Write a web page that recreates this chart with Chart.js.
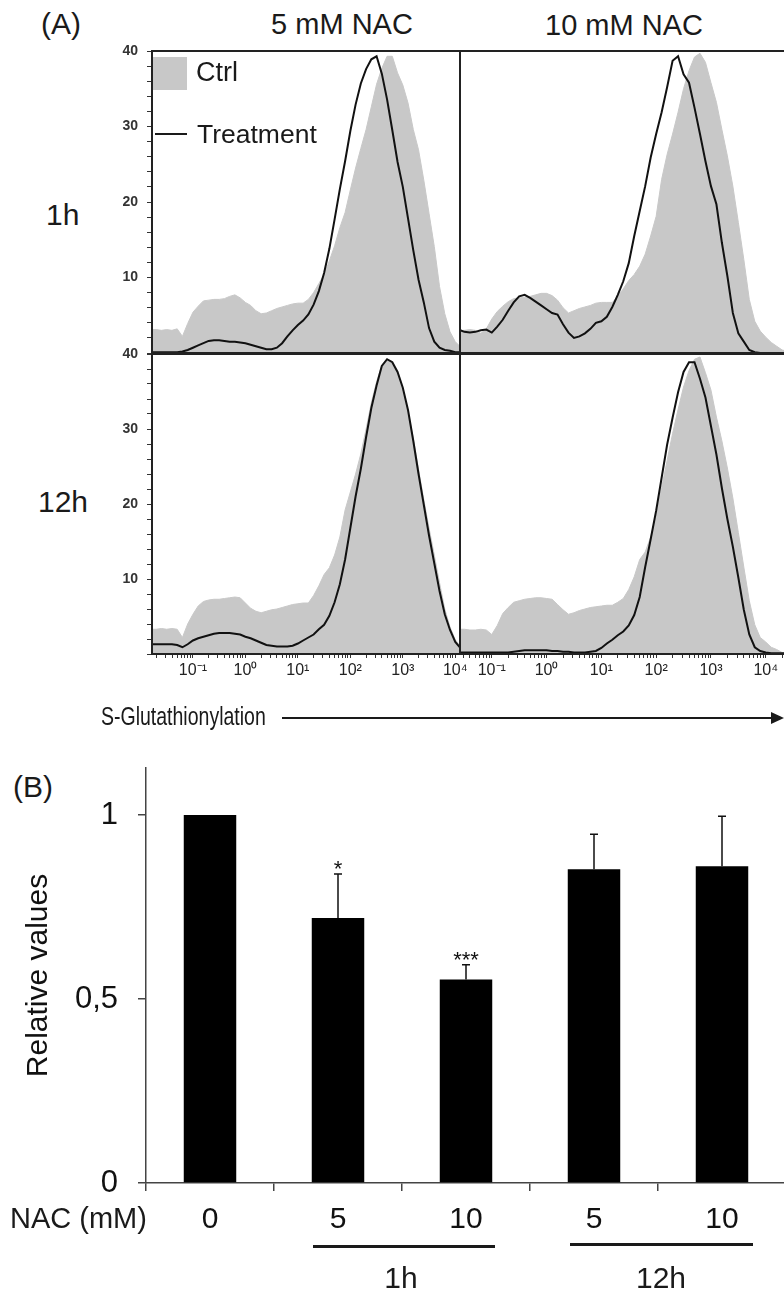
<!DOCTYPE html>
<html>
<head>
<meta charset="utf-8">
<title>S-Glutathionylation after NAC treatment</title>
<script src="https://cdn.jsdelivr.net/npm/chart.js@4.4.1/dist/chart.umd.min.js"></script>
<style>
  html, body { margin: 0; padding: 0; background: #fff; }
  body { width: 784px; height: 1296px; position: relative; overflow: hidden;
         font-family: "Liberation Sans", Arial, sans-serif; color: #1a1a1a; }
  canvas { position: absolute; }
  .t { position: absolute; white-space: nowrap; line-height: 1; }
  .c { transform: translateX(-50%); }
  .blk { position: absolute; background: #1a1a1a; }
</style>
</head>
<body>

<!-- panel (A): flow cytometry histograms -->
<div class="t" style="left:41px; top:9px; font-size:30px;">(A)</div>
<div class="t c" style="left:342px; top:10px; font-size:29px;">5 mM NAC</div>
<div class="t c" style="left:624px; top:11px; font-size:29px;">10 mM NAC</div>
<div class="t" style="left:46px; top:200px; font-size:30px;">1h</div>
<div class="t" style="left:38px; top:487px; font-size:30px;">12h</div>

<canvas id="histTL" width="363" height="315" style="left:100px; top:41px;"></canvas>
<canvas id="histTR" width="332" height="315" style="left:457px; top:41px;"></canvas>
<canvas id="histBR" width="332" height="350" style="left:457px; top:344px;"></canvas>
<canvas id="histBL" width="380" height="350" style="left:100px; top:344px;"></canvas>

<!-- legend of the histograms -->
<div style="position:absolute; left:153px; top:57px; width:34px; height:33px; background:#c8c8c8;"></div>
<div class="t" style="left:196px; top:59px; font-size:27px;">Ctrl</div>
<div class="blk" style="left:155px; top:133px; width:32px; height:2px;"></div>
<div class="t" style="left:197px; top:121px; font-size:26.5px;">Treatment</div>

<!-- x axis caption with arrow -->
<div class="t" style="left:101px; top:704px; font-size:25px; transform:scaleX(0.78); transform-origin:0 0;">S-Glutathionylation</div>
<div class="blk" style="left:282px; top:717px; width:490px; height:2px;"></div>
<div style="position:absolute; left:771px; top:712px; width:0; height:0; border-top:6px solid transparent; border-bottom:6px solid transparent; border-left:13px solid #1a1a1a;"></div>

<!-- panel (B): relative values -->
<div class="t" style="left:13px; top:772px; font-size:30px;">(B)</div>
<canvas id="barChart" width="786" height="548" style="left:0px; top:748px;"></canvas>
<div class="t" style="left:10px; top:1204px; font-size:29px;">NAC (mM)</div>
<div class="blk" style="left:313px; top:1245px; width:182px; height:3px;"></div>
<div class="blk" style="left:570px; top:1243px; width:183px; height:3px;"></div>
<div class="t c" style="left:401px; top:1263px; font-size:30px;">1h</div>
<div class="t c" style="left:661px; top:1263px; font-size:30px;">12h</div>

<script>
// ---- histogram data: counts per log10 intensity bin ----
const logIntensity = [
  -1.8, -1.7, -1.6, -1.5, -1.4, -1.3, -1.2, -1.1, -1.0, -0.9,
  -0.8, -0.7, -0.6, -0.5, -0.4, -0.3, -0.2, -0.1, 0.0, 0.1,
  0.2, 0.3, 0.4, 0.5, 0.6, 0.7, 0.8, 0.9, 1.0, 1.1,
  1.2, 1.3, 1.4, 1.5, 1.6, 1.7, 1.8, 1.9, 2.0, 2.1,
  2.2, 2.3, 2.4, 2.5, 2.6, 2.7, 2.8, 2.9, 3.0, 3.1,
  3.2, 3.3, 3.4, 3.5, 3.6, 3.7, 3.8, 3.9, 4.0, 4.1,
  4.2, 4.3, 4.4
];

// 1 h, 5 mM NAC
const ctrl1h5 = [
  3.1, 3.1, 3.0, 3.1, 3.0, 3.2, 2.2, 3.9, 5.4, 6.2,
  6.9, 7.0, 7.1, 7.1, 7.2, 7.5, 7.7, 7.3, 6.7, 6.3,
  5.6, 5.2, 5.3, 5.6, 5.9, 6.1, 6.3, 6.5, 6.6, 6.6,
  7.1, 8.0, 9.2, 10.4, 12.2, 14.2, 16.6, 18.6, 21.6, 24.5,
  27.1, 29.6, 32.6, 35.6, 37.7, 39.3, 39.3, 37.1, 35.5, 33.1,
  29.6, 26.9, 22.9, 18.5, 14.1, 8.8, 5.2, 2.8, 1.5, 0.8,
  0.4, 0.2, 0.1
];
const nac1h5 = [
  0.1, 0.1, 0.1, 0.1, 0.1, 0.1, 0.2, 0.4, 0.7, 1.0,
  1.3, 1.6, 1.7, 1.7, 1.6, 1.5, 1.5, 1.4, 1.3, 1.1,
  0.9, 0.7, 0.5, 0.5, 0.7, 1.3, 2.2, 3.0, 3.7, 4.3,
  5.1, 6.4, 8.2, 10.6, 13.8, 17.7, 21.7, 25.4, 29.4, 32.9,
  35.7, 37.6, 38.9, 39.3, 37.0, 33.6, 29.5, 25.3, 22.0, 17.8,
  13.6, 9.7, 6.7, 3.3, 1.5, 0.7, 0.4, 0.3, 0.1, 0.1,
  0.1, 0.1, 0.1
];

// 1 h, 10 mM NAC
const ctrl1h10 = [
  3.0, 3.0, 3.0, 3.0, 3.1, 3.0, 2.6, 3.2, 4.5, 5.5,
  6.2, 6.8, 7.2, 7.3, 7.4, 7.5, 7.7, 7.9, 7.9, 7.6,
  7.0, 6.0, 5.3, 5.6, 5.9, 6.1, 6.3, 6.6, 6.7, 6.7,
  6.7, 7.5, 8.5, 9.6, 10.4, 11.5, 13.1, 15.5, 18.1, 23.0,
  26.3, 29.0, 31.9, 35.0, 37.4, 39.2, 39.7, 38.5, 35.8, 33.2,
  29.6, 26.1, 22.1, 17.3, 12.4, 7.1, 4.2, 2.9, 2.1, 1.4,
  0.9, 0.4, 0.2
];
const nac1h10 = [
  3.0, 3.1, 3.1, 2.8, 2.7, 2.8, 3.0, 3.1, 2.7, 3.5,
  4.4, 5.6, 6.7, 7.5, 7.7, 7.3, 6.8, 6.3, 5.8, 5.3,
  5.1, 3.8, 2.7, 2.0, 2.2, 2.6, 3.2, 4.0, 4.2, 4.8,
  6.1, 7.7, 9.5, 11.9, 15.5, 18.8, 22.1, 25.9, 29.0, 31.9,
  35.2, 38.7, 39.3, 36.9, 35.8, 32.5, 29.0, 25.4, 22.1, 19.7,
  14.6, 10.2, 5.3, 2.6, 1.5, 0.4, 0.1, 0.0, 0.0, 0.0,
  0.0, 0.0, 0.0
];

// 12 h, 5 mM NAC
const ctrl12h5 = [
  3.3, 3.3, 3.4, 3.3, 3.4, 3.3, 2.2, 4.0, 5.3, 6.4,
  7.0, 7.2, 7.3, 7.3, 7.4, 7.5, 7.6, 7.5, 6.8, 6.1,
  5.7, 5.5, 5.7, 5.9, 6.0, 6.2, 6.4, 6.6, 6.7, 6.8,
  6.8, 7.8, 9.1, 10.6, 11.5, 13.2, 15.6, 19.2, 21.6, 24.0,
  26.7, 30.0, 33.5, 36.3, 38.5, 39.3, 39.0, 37.4, 35.0, 32.3,
  28.8, 24.6, 20.6, 16.8, 13.2, 9.5, 6.0, 3.6, 1.9, 1.0,
  0.5, 0.2, 0.1
];
const nac12h5 = [
  1.3, 1.3, 1.3, 1.3, 1.3, 1.2, 0.9, 1.3, 1.8, 2.1,
  2.3, 2.5, 2.7, 2.8, 2.8, 2.8, 2.7, 2.6, 2.3, 2.1,
  1.8, 1.5, 1.2, 1.1, 1.0, 1.0, 1.0, 1.1, 1.4, 1.8,
  2.2, 2.6, 3.3, 3.9, 5.1, 6.9, 9.3, 12.6, 16.8, 21.0,
  24.7, 28.9, 32.8, 35.8, 38.4, 39.3, 38.9, 37.6, 35.5, 32.5,
  28.4, 24.0, 19.9, 15.8, 12.1, 8.4, 5.3, 3.2, 1.6, 0.8,
  0.4, 0.2, 0.1
];

// 12 h, 10 mM NAC
const ctrl12h10 = [
  3.3, 3.3, 3.3, 3.3, 3.2, 3.2, 3.3, 3.2, 2.6, 3.8,
  5.4, 6.2, 6.9, 7.1, 7.3, 7.4, 7.5, 7.5, 7.4, 7.3,
  6.6, 5.9, 5.3, 5.5, 5.8, 6.0, 6.2, 6.3, 6.4, 6.5,
  6.5, 6.9, 7.4, 8.6, 10.3, 12.6, 13.6, 15.6, 18.2, 22.2,
  25.8, 29.4, 32.6, 35.6, 37.8, 39.3, 39.6, 37.5, 35.2, 31.6,
  28.4, 24.8, 20.8, 16.2, 11.6, 7.1, 3.9, 2.2, 1.6, 0.9,
  0.6, 0.2, 0.0
];
const nac12h10 = [
  0.2, 0.2, 0.2, 0.2, 0.2, 0.2, 0.2, 0.2, 0.2, 0.2,
  0.2, 0.2, 0.3, 0.4, 0.5, 0.5, 0.5, 0.5, 0.5, 0.4,
  0.4, 0.3, 0.3, 0.2, 0.2, 0.2, 0.3, 0.4, 0.8, 1.4,
  1.9, 2.5, 3.0, 3.8, 5.2, 7.6, 11.6, 15.3, 19.1, 23.5,
  27.9, 31.5, 34.9, 37.6, 38.9, 38.9, 36.7, 34.2, 30.4, 26.6,
  22.1, 18.0, 14.3, 10.2, 5.9, 2.6, 0.9, 0.4, 0.2, 0.1,
  0.1, 0.1, 0.1
];

// decade ticks of the intensity axis
const decades = [-1, 0, 1, 2, 3, 4];
const decadeLabels = ['10\u207B\u00B9', '10\u2070', '10\u00B9', '10\u00B2', '10\u00B3', '10\u2074'];

// ---- bar chart data ----
const nacLabels = ['0', '5', '10', '5', '10'];
const relValues = [1.0, 0.72, 0.553, 0.853, 0.861];
const relErrors = [0, 0.12, 0.04, 0.095, 0.136];
const sigMarks = ['', '*', '***', '', ''];
const relTicks = [0, 0.5, 1];
const relTickLabels = ['0', '0,5', '1'];

Chart.defaults.font.family = '"Liberation Sans", Arial, sans-serif';
Chart.defaults.color = '#1a1a1a';

// outline of each histogram panel
const framePlugin = {
  id: 'frame',
  afterDatasetsDraw(chart) {
    const { ctx, chartArea: a } = chart;
    ctx.save();
    ctx.strokeStyle = '#222';
    ctx.lineWidth = 2;
    ctx.strokeRect(a.left, a.top, a.right - a.left, a.bottom - a.top);
    ctx.restore();
  }
};

function points(values) {
  return logIntensity.map((x, i) => ({ x, y: values[i] }));
}

function histPanel(id, ctrl, nac, range, showY, showX, padding) {
  return new Chart(document.getElementById(id), {
    type: 'line',
    data: {
      datasets: [
        { label: 'Treatment', data: points(nac), borderColor: '#111', borderWidth: 2,
          pointRadius: 0, fill: false, tension: 0, order: 0 },
        { label: 'Ctrl', data: points(ctrl), borderColor: '#c8c8c8', backgroundColor: '#c8c8c8',
          borderWidth: 1, pointRadius: 0, fill: 'origin', tension: 0, order: 1 }
      ]
    },
    options: {
      responsive: false, animation: false, devicePixelRatio: 1,
      layout: { padding },
      plugins: { legend: { display: false }, tooltip: { enabled: false } },
      scales: {
        x: {
          type: 'linear', min: range[0], max: range[1], display: showX,
          border: { display: false },
          grid: { drawOnChartArea: false, tickLength: 4, color: '#333', lineWidth: 1 },
          ticks: {
            autoSkip: false, maxRotation: 0, minRotation: 0, padding: 3,
            font: { size: 16 }, color: '#222',
            callback(v) {
              const k = decades.indexOf(Math.round(v));
              return (Math.abs(v - Math.round(v)) < 1e-6 && k >= 0) ? decadeLabels[k] : '';
            }
          },
          afterBuildTicks(s) {
            const t = [];
            for (let n = -2; n <= 4; n++) {
              for (let m = 1; m < 10; m++) {
                const v = n + Math.log10(m);
                if (v >= s.min && v <= s.max) t.push({ value: m === 1 ? n : v });
              }
            }
            s.ticks = t;
          },
          afterFit(s) {
            s.height = showX ? 40 : 0;
            s.paddingLeft = 0; s.paddingRight = 0;
          }
        },
        y: {
          min: 0, max: 40, display: showY,
          border: { display: false },
          grid: { drawOnChartArea: false, tickLength: 5, color: '#333', lineWidth: 1 },
          ticks: {
            stepSize: 2, autoSkip: false, padding: 9,
            font: { size: 14, weight: 'bold' }, color: '#333',
            callback: v => (v > 0 && v % 10 === 0) ? String(v) : ''
          },
          afterFit(s) {
            s.width = showY ? 52 : 0;
            s.paddingTop = 0; s.paddingBottom = 0;
          }
        }
      }
    },
    plugins: [framePlugin]
  });
}

const leftRange = [-1.78, 4.09];
const rightRange = [-1.58, 4.37];
histPanel('histTL', ctrl1h5, nac1h5, leftRange, true, false, { left: 0, top: 10, right: 3, bottom: 3 });
histPanel('histTR', ctrl1h10, nac1h10, rightRange, false, false, { left: 3, top: 10, right: 3, bottom: 3 });
histPanel('histBR', ctrl12h10, nac12h10, rightRange, false, true, { left: 3, top: 10, right: 3, bottom: 0 });
histPanel('histBL', ctrl12h5, nac12h5, leftRange, true, true, { left: 0, top: 10, right: 20, bottom: 0 });

// error whiskers (upper half only) and significance stars
const errorBars = {
  id: 'errorBars',
  afterDatasetsDraw(chart) {
    const { ctx } = chart;
    const y = chart.scales.y;
    const meta = chart.getDatasetMeta(0);
    ctx.save();
    ctx.strokeStyle = '#111';
    ctx.fillStyle = '#111';
    ctx.lineWidth = 1.5;
    meta.data.forEach((bar, i) => {
      const err = relErrors[i];
      const top = y.getPixelForValue(relValues[i] + err);
      if (err > 0) {
        ctx.beginPath();
        ctx.moveTo(bar.x, bar.y);
        ctx.lineTo(bar.x, top);
        ctx.moveTo(bar.x - 4, top);
        ctx.lineTo(bar.x + 4, top);
        ctx.stroke();
      }
      if (sigMarks[i]) {
        ctx.font = '22px "Liberation Sans", Arial, sans-serif';
        ctx.textAlign = 'center';
        ctx.textBaseline = 'alphabetic';
        ctx.fillText(sigMarks[i], bar.x, top + 2);
      }
    });
    ctx.restore();
  }
};

new Chart(document.getElementById('barChart'), {
  type: 'bar',
  data: {
    labels: nacLabels,
    datasets: [{ data: relValues, backgroundColor: '#000', borderWidth: 0,
                 barPercentage: 0.41, categoryPercentage: 1 }]
  },
  options: {
    responsive: false, animation: false, devicePixelRatio: 1,
    layout: { padding: { left: 0, top: 20, right: 0, bottom: 0 } },
    plugins: { legend: { display: false }, tooltip: { enabled: false } },
    scales: {
      x: {
        border: { color: '#444', width: 1.5 },
        grid: { offset: true, drawOnChartArea: false, tickLength: 8, color: '#444', lineWidth: 1.5 },
        ticks: { font: { size: 30 }, color: '#111', padding: 11, maxRotation: 0 },
        afterFit(s) { s.height = 113; s.paddingLeft = 0; s.paddingRight = 0; }
      },
      y: {
        min: 0, max: 1.128,
        border: { color: '#444', width: 1.5 },
        grid: { drawOnChartArea: false, tickLength: 8, color: '#444', lineWidth: 1.5 },
        ticks: {
          font: { size: 31 }, color: '#111', padding: 20,
          callback: v => { const k = relTicks.indexOf(v); return k >= 0 ? relTickLabels[k] : ''; }
        },
        afterBuildTicks(s) { s.ticks = relTicks.map(v => ({ value: v })); },
        title: { display: true, text: 'Relative values', font: { size: 30 }, color: '#111',
                 padding: { top: 21, bottom: 0 } },
        afterFit(s) { s.width = 146; s.paddingTop = 0; s.paddingBottom = 0; }
      }
    }
  },
  plugins: [errorBars]
});
</script>
</body>
</html>
